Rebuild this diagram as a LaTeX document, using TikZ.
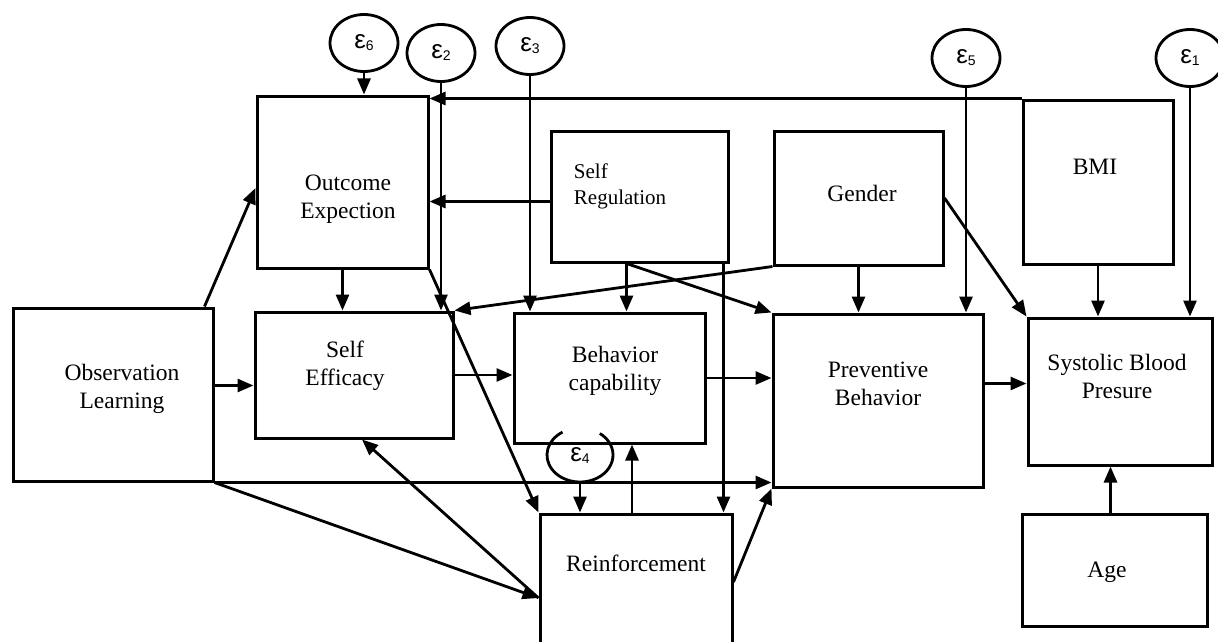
\documentclass[tikz,border=0pt]{standalone}
\usepackage{fontspec}
\setmainfont{Liberation Serif}
\newfontfamily\epsfont{Liberation Sans}
\usetikzlibrary{arrows.meta,shapes.geometric,calc}
\newcommand{\bigtxt}{\fontsize{23.5}{28}\selectfont}
\newcommand{\smalltxt}{\fontsize{21}{26}\selectfont}
\newcommand{\epslbl}[1]{{\epsfont\fontsize{26}{26}\selectfont ε\raisebox{-2pt}{\fontsize{14}{14}\selectfont #1}}}
\begin{document}
\begin{tikzpicture}[x=1pt,y=-1pt,
 box/.style={draw, line width=3pt, inner sep=0pt},
 lbl/.style={align=center, font=\bigtxt, inner sep=0pt},
 errc/.style={draw, ellipse, line width=2.8pt, minimum width=68pt, minimum height=57pt, inner sep=0pt},
 arr/.style={line width=2.8pt, -{Triangle[length=16pt,width=13pt]}},
]
\useasboundingbox (0,0) rectangle (1218,642);

% boxes
\node[box, minimum width=171pt, minimum height=172pt,
  label={[lbl,xshift=5.5pt,yshift=-17pt]center:{Outcome\\Expection}}] (OE) at (342.5,182) {};
\node[box, minimum width=198pt, minimum height=126pt,
  label={[lbl,xshift=-9pt,yshift=9pt]center:{Self\\Efficacy}}] (SE) at (354,375) {};
\node[box, minimum width=200pt, minimum height=173pt,
  label={[lbl,xshift=9pt,yshift=5.5pt]center:{Observation\\Learning}}] (OL) at (113,394.5) {};
\node[box, minimum width=177pt, minimum height=131pt,
  label={[lbl,align=left,font=\smalltxt,xshift=-19.5pt,yshift=10.5pt]center:{Self\\Regulation}}] (SR) at (639.5,196.5) {};
\node[box, minimum width=169pt, minimum height=134pt,
  label={[lbl,xshift=3.5pt,yshift=5pt]center:{Gender}}] (G) at (858.5,198) {};
\node[box, minimum width=150pt, minimum height=164pt,
  label={[lbl,xshift=-3pt,yshift=15pt]center:{BMI}}] (BMI) at (1098,182) {};
\node[box, minimum width=184pt, minimum height=147pt,
  label={[lbl,xshift=-3pt,yshift=15.5pt]center:{Systolic Blood\\Presure}}] (SBP) at (1120,391.5) {};
\node[box, minimum width=210pt, minimum height=173pt,
  label={[lbl,yshift=16.5pt]center:{Preventive\\Behavior}}] (PB) at (878,400.5) {};
\node[box, minimum width=191pt, minimum height=130pt,
  label={[lbl,xshift=5.5pt,yshift=7pt]center:{Behavior\\capability}}] (BC) at (609.5,378) {};
\node[box, minimum width=192pt, minimum height=136pt,
  label={[lbl,yshift=19pt]center:{Reinforcement}}] (R) at (636,582) {};
\node[box, minimum width=185pt, minimum height=112pt,
  label={[lbl,xshift=-7.5pt,yshift=-2pt]center:{Age}}] (Age) at (1114.5,570) {};

% error terms
\node[errc] (e6) at (364,43) {\epslbl{6}};
\node[errc] (e2) at (441,53) {\epslbl{2}};
\node[errc] (e3) at (530,46) {\epslbl{3}};
\node[errc] (e5) at (966,58) {\epslbl{5}};
\node[errc] (e1) at (1190,58) {\epslbl{1}};
\node[ellipse, minimum width=66pt, minimum height=54pt, inner sep=0pt] (e4) at (580,455) {\epslbl{4}};
\draw[line width=2.8pt] ($(e4.center)+(122:33pt and 27pt)$) arc[start angle=122, end angle=413, x radius=33pt, y radius=27pt];

% error arrows
\draw[arr] (e6.south) -- (e6.south |- OE.north);
\draw[arr] (e2.south) -- (e2.south |- SE.north);
\draw[arr] (e3.south) -- (e3.south |- BC.north);
\draw[arr] (e5.south) -- (e5.south |- PB.north);
\draw[arr] (e1.south) -- (e1.south |- SBP.north);
\draw[arr] (e4.south) -- (e4.south |- R.north);

% paths
\draw[arr] (BMI.north west) -- (BMI.north west -| OE.east);
\draw[arr] ([yshift=-5pt]SR.west) -- ([yshift=-5pt]SR.west -| OE.east);
\draw[arr] (OE.south) -- (OE.south |- SE.north);
\draw[arr] (OE.south east) -- (R.north west);
\draw[arr] ([xshift=-10pt]OL.north east) -- ([yshift=-6pt]OE.west);
\draw[arr] ([yshift=9pt]OL.east) -- ([yshift=9pt]OL.east -| SE.west);
\draw[arr] (OL.south east) -- (OL.south east -| PB.west);
\draw[arr] (OL.south east) -- ([yshift=-16pt]R.west);
\draw[arr] ([yshift=-16pt]R.west) -- ([xshift=8pt]SE.south);
\draw[arr] (SE.east) -- (SE.east -| BC.west);
\draw[arr] ([xshift=-13pt]SR.south) -- ([xshift=-13pt]SR.south |- BC.north);
\draw[arr] ([xshift=-13pt]SR.south) -- (PB.north west);
\draw[arr] ([xshift=-6pt]SR.south east) -- ([xshift=-6pt]SR.south east |- R.north);
\draw[arr] (BC.east) -- (BC.east -| PB.west);
\draw[arr] (G.south) -- (G.south |- PB.north);
\draw[arr] (G.south west) -- (SE.north east);
\draw[arr] (G.east) -- (SBP.north west);
\draw[arr] (BMI.south) -- (BMI.south |- SBP.north);
\draw[arr] ([yshift=17pt]PB.east) -- ([yshift=17pt]PB.east -| SBP.west);
\draw[arr] ([xshift=-4pt]Age.north) -- ([xshift=-4pt]Age.north |- SBP.south);
\draw[arr] ([xshift=-4pt]R.north) -- ([xshift=-4pt]R.north |- BC.south);
\draw[arr] (R.east) -- (PB.south west);
\end{tikzpicture}
\end{document}
